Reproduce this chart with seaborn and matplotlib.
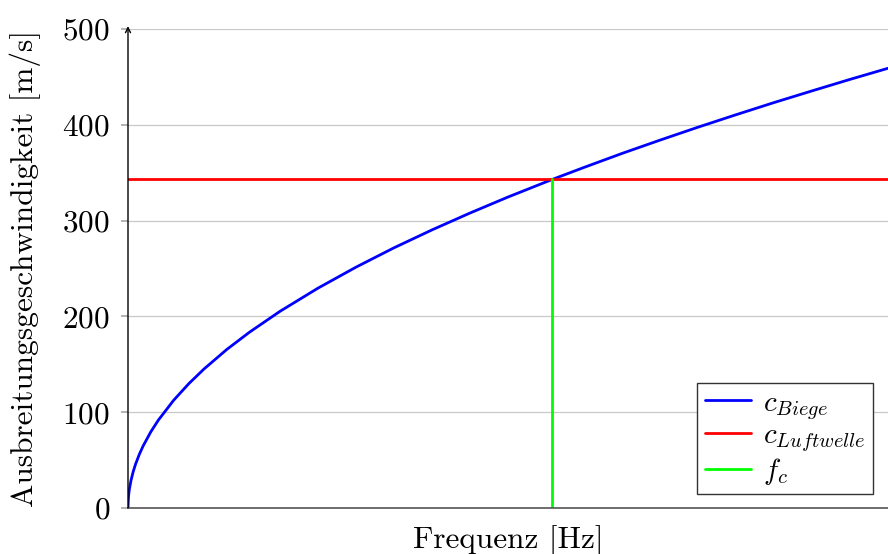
import numpy as np
import pandas as pd
import matplotlib
matplotlib.use("Agg")
import matplotlib.pyplot as plt
import seaborn as sns

# Frequency axis (relative units, no tick labels in the chart)
freq = [0, 0.0005, 0.001, 0.002, 0.004, 0.007, 0.01, 0.015, 0.02, 0.03, 0.04, 0.06,
        0.08, 0.1, 0.13, 0.16, 0.2, 0.25, 0.3, 0.35, 0.4, 0.45, 0.5, 0.558,
        0.6, 0.65, 0.7, 0.75, 0.8, 0.85, 0.9, 0.95, 1.0]
# bending wave speed [m/s]
c_biege = [0, 10, 14.5, 20.5, 29, 38.4, 45.9, 56.2, 64.9, 79.5, 91.8, 112.4,
           129.8, 145.1, 165.5, 183.6, 205.3, 229.5, 251.4, 271.6, 290.3, 307.9, 324.6, 342.9,
           355.5, 370.1, 384.0, 397.5, 410.5, 423.2, 435.4, 447.4, 459.0]
c_luft = 343
f_c = 0.558

sns.set_theme(style="whitegrid")
plt.rcParams["font.family"] = ["cmr10", "DejaVu Serif"]
plt.rcParams["mathtext.fontset"] = "cm"
plt.rcParams["axes.formatter.use_mathtext"] = True
plt.rcParams["text.color"] = "black"
plt.rcParams["axes.labelcolor"] = "black"
plt.rcParams["ytick.color"] = "black"

fig = plt.figure(figsize=(8.88, 5.54), dpi=100)
ax = fig.add_axes([128/888, 1-508/554, 1-128/888, (508-29)/554])

df_b = pd.DataFrame({"f": freq, "c": c_biege})
df_l = pd.DataFrame({"f": [0, 1], "c": [c_luft, c_luft]})
df_f = pd.DataFrame({"f": [f_c, f_c], "c": [0, c_luft]})

sns.lineplot(data=df_b, x="f", y="c", color="#0000ff", lw=2, ax=ax,
             label=r"$c_{Biege}$", estimator=None, sort=False)
sns.lineplot(data=df_l, x="f", y="c", color="#ff0000", lw=2, ax=ax,
             label=r"$c_{Luftwelle}$", estimator=None, sort=False)
sns.lineplot(data=df_f, x="f", y="c", color="#00ff00", lw=2, ax=ax,
             label=r"$f_c$", estimator=None, sort=False)

ax.set_xlim(0, 1)
ax.set_ylim(0, 500)
ax.set_yticks([0, 100, 200, 300, 400, 500])
ax.set_xticks([])
ax.grid(axis="y", color="#c8c8c8", lw=0.9)
ax.grid(axis="x", visible=False)
ax.set_facecolor("white")
for s in ["top", "right"]:
    ax.spines[s].set_visible(False)
ax.spines["bottom"].set_color("#555555")
ax.spines["bottom"].set_linewidth(1.2)
ax.spines["left"].set_visible(False)
ax.annotate("", xy=(0, 1.006), xytext=(0, 0), xycoords="axes fraction",
            arrowprops=dict(arrowstyle="->", color="black", lw=1.0,
                            shrinkA=0, shrinkB=0, mutation_scale=9),
            annotation_clip=False)
ax.tick_params(axis="y", length=5, color="#aaaaaa", labelcolor="black",
               labelsize=22.5, pad=8, left=True)
ax.set_xlabel("Frequenz [Hz]", fontsize=22.5, labelpad=12)
ax.set_ylabel("Ausbreitungsgeschwindigkeit [m/s]", fontsize=22.5, labelpad=15)

leg = ax.legend(loc="lower right", bbox_to_anchor=(0.980, 0.029), fontsize=21,
                frameon=True, fancybox=False, edgecolor="#333333", framealpha=1,
                handlelength=1.6, handletextpad=0.4, borderpad=0.25,
                labelspacing=0.05, borderaxespad=0)
leg.get_frame().set_linewidth(1.0)

fig.savefig("out.png", dpi=100)
